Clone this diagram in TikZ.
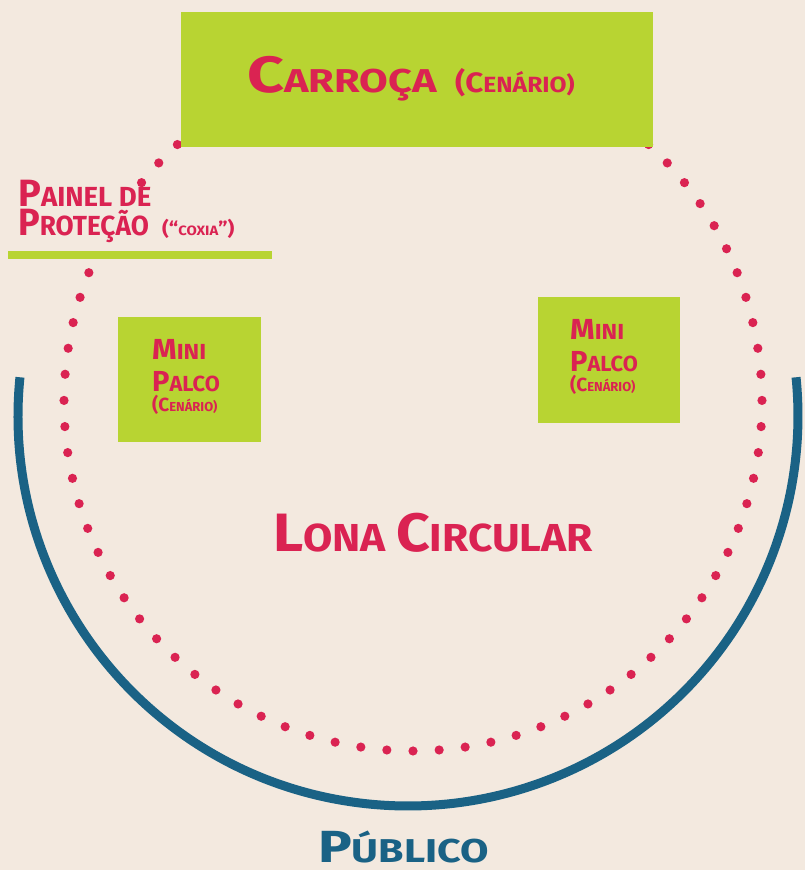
\documentclass[tikz,border=0pt]{standalone}
\usepackage{fontspec}
\setmainfont{Fira Sans}
\usetikzlibrary{calc, positioning}

\definecolor{bege}{HTML}{F3E9DF}
\definecolor{verde}{HTML}{B8D432}
\definecolor{rosa}{HTML}{DA2352}
\definecolor{azul}{HTML}{1A6285}

% versalete falso: letra inicial grande, resto menor
\newcommand{\versalete}[4]{{\fontsize{#1pt}{#1pt}\selectfont #3}{\fontsize{#2pt}{#2pt}\selectfont #4}}
% alarga o texto na horizontal
\newcommand{\largo}[2]{\scalebox{#1}[1]{#2}}

\begin{document}
\begin{tikzpicture}[
  x=1pt, y=1pt,
  caixa/.style={fill=verde, draw=none},
  rotulo/.style={inner sep=0pt, anchor=base west, text=rosa, font=\bfseries},
  ponto/.style={fill=rosa},
  plateia/.style={draw=azul, line width=9pt}
]

% Fundo
\fill[bege] (0,0) rectangle (805,870);
\useasboundingbox (0,0) rectangle (805,870);

% Lona circular pontilhada
\coordinate (centro) at (413,468);
\foreach \k in {-32,-31,-30,-26,-25,...,32}{
  \fill[ponto] ($(centro)+(270+\k*4.298:349pt)$) circle[radius=4.6pt];
}

% Publico
\coordinate (arco) at (408,454);
\draw[plateia] ([shift={(174.3:390pt)}]arco) arc[start angle=174.3, end angle=365.7, radius=390pt];

% Carroca
\fill[caixa] (181,723) rectangle (653,858);
\node[rotulo] (carroca) at (247,777) {\largo{1.26}{\versalete{51}{33}{C}{ARROÇA}}};
\node[rotulo] (cenario) at (455,777) {\largo{1.12}{\versalete{28}{22}{(C}{ENÁRIO)}}};

% Painel de protecao
\fill[verde] (8,611) rectangle (272,619);
\node[rotulo] (painel) at (18,663) {\versalete{38}{27.6}{P}{AINEL DE}};
\node[rotulo] (protecao) at (18,634) {\largo{0.95}{\versalete{38}{27.6}{P}{ROTEÇÃO}}};
\node[rotulo] (coxia) at (162,634) {\largo{1.1}{\versalete{19}{13.5}{(“}{COXIA}{\fontsize{19pt}{19pt}\selectfont ”)}}};

% Mini palcos
\fill[caixa] (118,428) rectangle (261,553);
\node[rotulo] (miniA) at (152,510) {\largo{1.08}{\versalete{29}{21.8}{M}{INI}}};
\node[rotulo] (palcoA) at (152,478) {\versalete{29}{21.8}{P}{ALCO}};
\node[rotulo] (cenA) at (152,458) {\versalete{19}{13}{(C}{ENÁRIO)}};

\fill[caixa] (538,447) rectangle (680,573);
\node[rotulo] (miniB) at (570,530) {\largo{1.08}{\versalete{29}{21.8}{M}{INI}}};
\node[rotulo] (palcoB) at (570,498) {\versalete{29}{21.8}{P}{ALCO}};
\node[rotulo] (cenB) at (570,478) {\versalete{19}{13}{(C}{ENÁRIO)}};

% Textos
\node[rotulo] (lona) at (273,318) {\largo{1.09}{\versalete{54}{39}{L}{ONA }\versalete{54}{39}{C}{IRCULAR}}};
\node[rotulo, text=azul] (publico) at (318,8) {\largo{1.25}{\versalete{45}{33}{P}{ÚBLICO}}};

\end{tikzpicture}
\end{document}
